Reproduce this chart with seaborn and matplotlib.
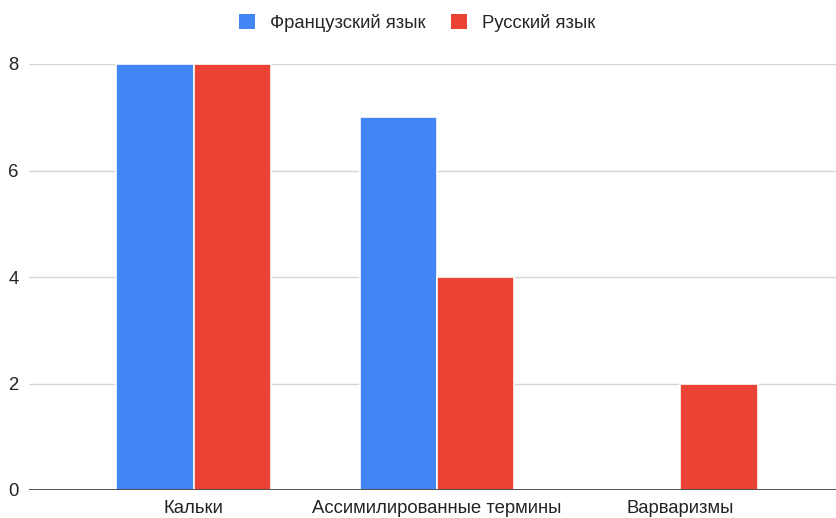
import matplotlib
matplotlib.use("Agg")
import matplotlib.pyplot as plt
from matplotlib.patches import Patch
import seaborn as sns
import pandas as pd

categories = ["Кальки", "Ассимилированные термины", "Варваризмы"]
series_names = ["Французский язык", "Русский язык"]
french = [8, 7, 0]
russian = [8, 4, 2]
yticks = [0, 2, 4, 6, 8]
colors = ["#4285F4", "#EA4335"]

df = pd.DataFrame({
    "category": categories * 2,
    "series": [series_names[0]] * 3 + [series_names[1]] * 3,
    "value": french + russian,
})

sns.set_theme(style="white")
plt.rcParams["font.family"] = ["Liberation Sans", "DejaVu Sans"]

fig = plt.figure(figsize=(8.37, 5.18), dpi=100)
ax = fig.add_axes([29 / 837, 1 - 490 / 518, (837 - 29) / 837, (490 - 64) / 518])

sns.barplot(data=df, x="category", y="value", hue="series", order=categories,
            hue_order=series_names, palette=colors, width=0.634, gap=0,
            edgecolor="white", linewidth=1.2, saturation=1, legend=False, ax=ax)

ax.set_xlim(-0.676, 2.643)
ax.set_ylim(0, 8)
ax.set_yticks(yticks)
ax.set_yticklabels([str(t) for t in yticks])
ax.set_xlabel("")
ax.set_ylabel("")
for t in yticks[1:]:
    ax.axhline(t, color="#d6d6d6", linewidth=1, zorder=0)
ax.axhline(0, color="#333333", linewidth=1.2, zorder=3)
for s in ax.spines.values():
    s.set_visible(False)
ax.tick_params(axis="both", length=0, labelsize=13.3, colors="#222222")
ax.tick_params(axis="y", pad=7.5)
ax.tick_params(axis="x", pad=7.5)

handles = [Patch(facecolor=c, edgecolor="none") for c in colors]
fig.legend(handles, series_names, loc="center", bbox_to_anchor=(417 / 837, 1 - 23 / 518),
           ncol=2, frameon=False, fontsize=13.3, handlelength=0.85, handleheight=0.85,
           handletextpad=0.8, columnspacing=1.4)

fig.savefig("out.png", dpi=100)
